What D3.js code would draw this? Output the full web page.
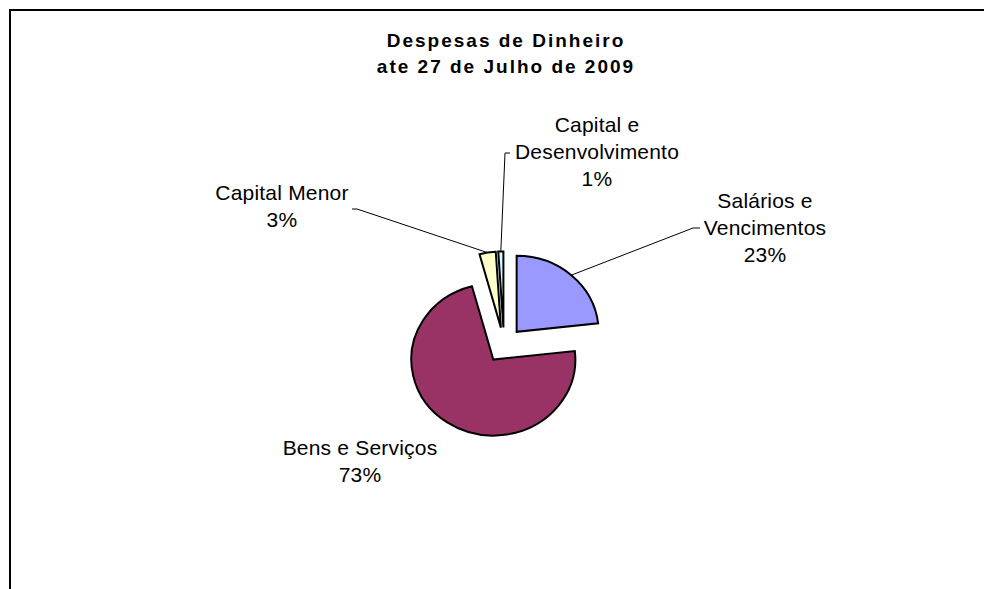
<!DOCTYPE html>
<meta charset="utf-8">
<style>

body {
  margin: 0;
  overflow: hidden;
  background: #fff;
}
text {
  font-family: "Liberation Sans", Arial, sans-serif;
  fill: #000;
}
.title {
  font-size: 19px;
  font-weight: bold;
  letter-spacing: 2px;
}
.label {
  font-size: 21px;
  letter-spacing: 0.2px;
}
.slices path {
  stroke: #000;
  stroke-width: 2px;
  vector-effect: non-scaling-stroke;
}
.leaders polyline {
  fill: none;
  stroke: #000;
  stroke-width: 1px;
}
.frame line {
  stroke: #000;
  stroke-width: 2px;
}

</style>
<svg id="svg" width="984" height="589"></svg>
<script src="https://d3js.org/d3.v7.min.js"></script>
<script>

// data (percent of total)
var categories = ["Salários e Vencimentos", "Bens e Serviços", "Capital Menor", "Capital e Desenvolvimento"];
var values = [23.2, 72.6, 3.2, 1.0];
var colors = ["#9999ff", "#993366", "#ffffcc", "#ccffff"];
var labelLines = [["Salários e", "Vencimentos"], ["Bens e Serviços"], ["Capital Menor"], ["Capital e", "Desenvolvimento"]];
var titleLines = ["Despesas de Dinheiro", "ate 27 de Julho de 2009"];

var svg = d3.select("svg"),
    width = +svg.attr("width"),
    height = +svg.attr("height");

// chart frame: only its top and left edges fall inside the window
var frame = svg.append("g").attr("class", "frame");
frame.append("line").attr("x1", 9).attr("y1", 10).attr("x2", width).attr("y2", 10);
frame.append("line").attr("x1", 10).attr("y1", 9).attr("x2", 10).attr("y2", height);

svg.append("text")
    .attr("class", "title")
    .attr("text-anchor", "middle")
  .selectAll("tspan")
  .data(titleLines)
  .enter().append("tspan")
    .attr("x", 506)
    .attr("y", function(d, i) { return 47 + i * 26; })
    .text(function(d) { return d; });

var cx = 504, cy = 345,
    radius = 82,
    squash = 76 / 82,
    explode = 19;

var pie = d3.pie().sort(null).value(function(d) { return d; });
var arcs = pie(values);
var total = d3.sum(values);
var arc = d3.arc().innerRadius(0).outerRadius(radius);

function offset(d, r) {
  var a = (d.startAngle + d.endAngle) / 2;
  return [Math.sin(a) * r, -Math.cos(a) * r * squash];
}

svg.append("g")
    .attr("class", "slices")
  .selectAll("path")
  .data(arcs)
  .enter().append("path")
    .attr("transform", function(d) {
      var o = offset(d, explode);
      return "translate(" + (cx + o[0]) + "," + (cy + o[1]) + ") scale(1," + squash + ")";
    })
    .attr("fill", function(d, i) { return colors[i]; })
    .attr("d", arc);

// label anchors: text centre x, first baseline, leader elbow and leader end
var labelPos = [
  {x: 765, y: 208, elbow: [693, 228], end: [700, 228]},
  {x: 360, y: 455, elbow: null, end: null},
  {x: 282, y: 200, elbow: [357, 209], end: [352, 209]},
  {x: 597, y: 132, elbow: [505, 153], end: [510, 153]}
];

var fmt = d3.format(".0f");

var leaders = svg.append("g").attr("class", "leaders");
arcs.forEach(function(d, i) {
  var p = labelPos[i];
  if (!p.elbow) return;
  var e = offset(d, explode), o = offset(d, radius);
  var start = [cx + e[0] + o[0], cy + e[1] + o[1]];
  leaders.append("polyline")
      .attr("points", [start, p.elbow, p.end].map(function(q) { return q.join(","); }).join(" "));
});

var labels = svg.append("g").selectAll("text")
  .data(arcs)
  .enter().append("text")
    .attr("class", "label")
    .attr("text-anchor", "middle");

labels.selectAll("tspan")
  .data(function(d, i) {
    return labelLines[i].concat([fmt(d.value / total * 100) + "%"])
      .map(function(t) { return {t: t, i: i}; });
  })
  .enter().append("tspan")
    .attr("x", function(d) { return labelPos[d.i].x; })
    .attr("y", function(d, j) { return labelPos[d.i].y + j * 27; })
    .text(function(d) { return d.t; });

</script>
